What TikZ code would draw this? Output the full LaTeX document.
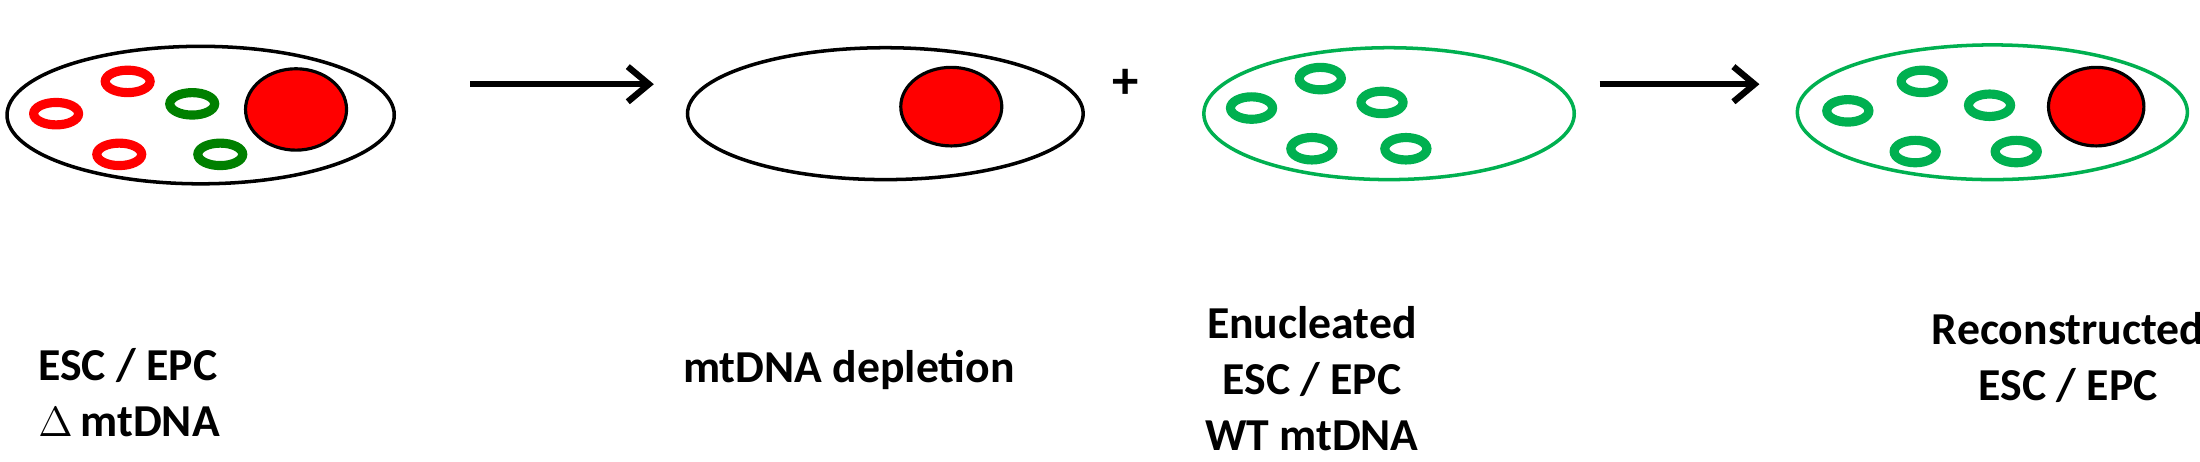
\documentclass[tikz,border=0pt]{standalone}
\usepackage{fontspec}
\setmainfont{Carlito}
\usetikzlibrary{arrows.meta}
\definecolor{cgreen}{RGB}{0,176,80}
\definecolor{dgreen}{RGB}{0,128,0}
\begin{document}
\begin{tikzpicture}[x=0.01403cm,y=-0.01403cm,
  cell/.style={line width=1pt},
  ring/.style={line width=2.6pt},
  nuc/.style={fill=red,draw=black,line width=0.9pt},
  arr/.style={line width=1.8pt,-{Straight Barb[length=6pt,width=10pt]}},
  lab/.style={font=\bfseries\fontsize{13}{16}\selectfont,align=center,inner sep=0pt}]
\useasboundingbox (0,0) rectangle (1568,329);
% cell 1
\draw[cell] (143,82) ellipse [x radius=138,y radius=49];
\draw[nuc] (211,78) ellipse [x radius=36,y radius=29];
\foreach \p in {(91,58),(40,81),(85,110)} \draw[ring,red] \p ellipse [x radius=16,y radius=8];
\foreach \p in {(137,74),(157,110)} \draw[ring,dgreen] \p ellipse [x radius=16,y radius=8];
% arrow 1
\coordinate (a1s) at (335,60); \coordinate (a1e) at (466,60);
\draw[arr] (a1s) -- (a1e);
% cell 2
\draw[cell] (631,81) ellipse [x radius=141,y radius=47];
\draw[nuc] (678,76) ellipse [x radius=36,y radius=28];
\node[font=\bfseries\fontsize{15}{16}\selectfont] (plus) at (802,60) {+};
% cell 3
\draw[cell,cgreen] (990,81) ellipse [x radius=132,y radius=47];
\foreach \p in {(941,56),(892,77),(985,73),(935,106),(1002,106)} \draw[ring,cgreen] \p ellipse [x radius=15,y radius=8];
% arrow 2
\coordinate (a2s) at (1140,60); \coordinate (a2e) at (1254,60);
\draw[arr] (a2s) -- (a2e);
% cell 4
\draw[cell,cgreen] (1420,80) ellipse [x radius=139,y radius=48];
\draw[nuc] (1494,76) ellipse [x radius=34,y radius=28];
\foreach \p in {(1370,58),(1317,79),(1418,75),(1365,108),(1437,108)} \draw[ring,cgreen] \p ellipse [x radius=15,y radius=8];
% labels
\node[lab,align=left] (l1) at (92,280) {ESC / EPC\\$\Delta$\,mtDNA};
\node[lab] (l2) at (605,264) {mtDNA depletion};
\node[lab] (l3) at (935,270) {Enucleated\\ESC / EPC\\WT mtDNA};
\node[lab] (l4) at (1474,255) {Reconstructed\\ESC / EPC};
\end{tikzpicture}
\end{document}
